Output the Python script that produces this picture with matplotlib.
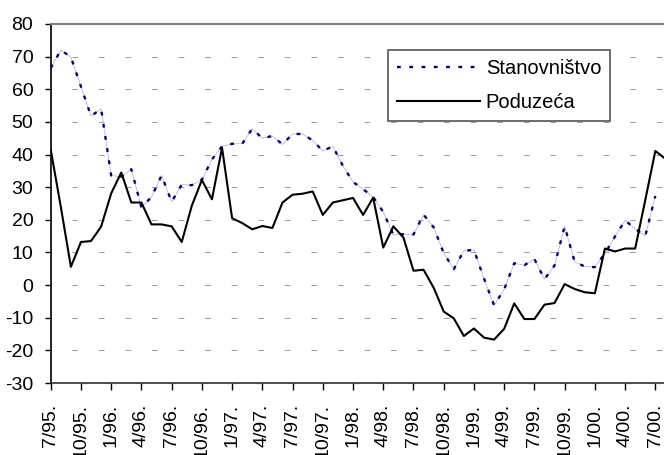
import matplotlib
matplotlib.use("Agg")
import matplotlib.pyplot as plt

plt.rcParams['font.family'] = ['Liberation Sans', 'DejaVu Sans']
plt.rcParams['axes.unicode_minus'] = False

# monthly values, 7/95 .. 8/00
stanovnistvo = [66.5, 72.0, 69.9, 60.8, 51.8, 54.0, 33.6, 33.2, 35.5, 23.8,
                27.0, 33.6, 25.5, 30.8, 30.6, 32.3, 38.5, 42.5, 43.3, 43.3,
                47.9, 45.0, 45.7, 43.1, 46.3, 46.3, 44.3, 41.1, 42.5, 36.5,
                31.6, 29.4, 27.0, 22.4, 15.4, 15.6, 15.5, 21.6, 17.7, 9.8,
                4.9, 10.5, 10.8, 2.0, -6.2, -1.3, 6.7, 6.1, 8.0, 1.8,
                6.0, 18.0, 7.1, 5.7, 5.5, 9.7, 14.9, 19.8, 17.3, 15.0,
                27.3]
poduzeca = [41.5, 24.0, 5.6, 13.2, 13.5, 17.9, 28.1, 34.5, 25.3, 25.3,
            18.6, 18.6, 18.0, 13.2, 24.3, 32.2, 26.3, 42.1, 20.5, 19.0,
            17.1, 18.1, 17.5, 25.3, 27.7, 28.0, 28.7, 21.5, 25.3, 26.0,
            26.7, 21.5, 26.8, 11.5, 18.0, 14.6, 4.4, 4.7, -0.8, -8.1,
            -10.2, -15.6, -13.3, -16.1, -16.7, -13.4, -5.6, -10.4, -10.4, -6.0,
            -5.5, 0.3, -1.2, -2.2, -2.5, 11.2, 10.3, 11.2, 11.2, 26.0,
            41.1, 38.7]
tick_pos = list(range(0, 61, 3))
tick_labels = ['7/95.', '10/95.', '1/96.', '4/96.', '7/96.', '10/96.', '1/97.',
               '4/97.', '7/97.', '10/97.', '1/98.', '4/98.', '7/98.', '10/98.',
               '1/99.', '4/99.', '7/99.', '10/99.', '1/00.', '4/00.', '7/00.']

fig = plt.figure(figsize=(6.64, 4.55), dpi=100)
ax = fig.add_axes([0.0764, 72 / 455, 0.9257, 359 / 455])

x1 = list(range(len(stanovnistvo)))
x2 = list(range(len(poduzeca)))

# faint connecting line under the dots, as in the original rendering
ax.plot(x1, stanovnistvo, color='#a8a8dc', lw=0.5, zorder=2)
ax.plot(x1, stanovnistvo, color='#000080', lw=1.7, ls=(0, (1.6, 3.6)),
        zorder=3, label='Stanovništvo')
ax.plot(x2, poduzeca, color='black', lw=1.5, zorder=4, label='Poduzeća')

ax.set_xlim(0, 61)
ax.set_ylim(-30, 80)
ax.set_yticks(range(-30, 81, 10))
ax.set_xticks(tick_pos)
ax.set_xticklabels(tick_labels, rotation=90, fontsize=14)
ax.tick_params(axis='y', labelsize=14, length=4.5, width=1, pad=8)
ax.tick_params(axis='x', length=5, width=1, pad=10)

ax.yaxis.grid(True, color='#a0a0a0', lw=0.75, ls=(5.5, (5.5, 20)))
ax.set_axisbelow(True)

ax.spines['right'].set_visible(False)
ax.spines['top'].set_color('#808080')
ax.spines['top'].set_linewidth(1.5)
ax.spines['left'].set_linewidth(1.2)
ax.spines['bottom'].set_linewidth(1.2)
ax.spines['bottom'].set_color('#303030')

leg = ax.legend(loc='upper left', bbox_to_anchor=(388 / 664, 1 - 50 / 455),
                bbox_transform=fig.transFigure, prop={'size': 14.5},
                frameon=True, fancybox=False, edgecolor='#606060',
                handlelength=4.1, handletextpad=0.3, borderpad=0.45,
                labelspacing=0.75, borderaxespad=0)
leg.get_frame().set_linewidth(1.3)
leg.get_frame().set_alpha(1)

fig.savefig('out.png', dpi=100)
